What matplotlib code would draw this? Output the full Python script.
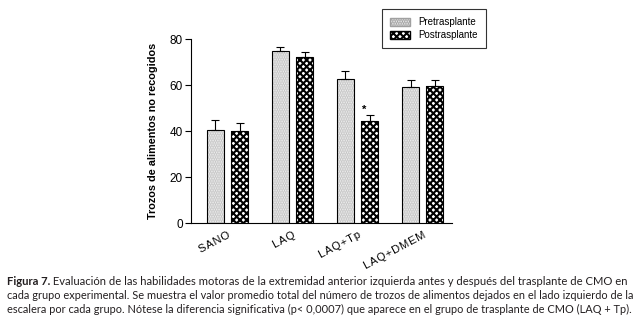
import numpy as np
import matplotlib
matplotlib.use('Agg')
import matplotlib.pyplot as plt
from matplotlib.patches import Patch

# data
groups = ['SANO', 'LAQ', 'LAQ+Tp', 'LAQ+DMEM']
pre_vals = [40.5, 75.0, 62.5, 59.0]
pre_err = [4.5, 1.5, 3.5, 3.0]
post_vals = [40.0, 72.0, 44.5, 59.5]
post_err = [3.5, 2.5, 2.5, 2.5]
series_names = ['Pretrasplante', 'Postrasplante']
y_ticks = [0, 20, 40, 60, 80]

caption_bold = 'Figura 7.'
caption_lines = [
    ' Evaluación de las habilidades motoras de la extremidad anterior izquierda antes y después del trasplante de CMO en',
    'cada grupo experimental. Se muestra el valor promedio total del número de trozos de alimentos dejados en el lado izquierdo de la',
    'escalera por cada grupo. Nótese la diferencia significativa (p< 0,0007) que aparece en el grupo de trasplante de CMO (LAQ + Tp).',
]

chart_font = ['Liberation Sans Narrow', 'Liberation Sans', 'DejaVu Sans']
cap_font = ['Lato', 'DejaVu Sans']

plt.rcParams['font.family'] = chart_font
plt.rcParams['hatch.linewidth'] = 1.5

fig = plt.figure(figsize=(6.39, 3.34), dpi=100)
ax = fig.add_axes([0.2989, 0.3323, 0.4085, 0.5509])

x = np.arange(len(groups))
w = 0.26
off = 0.185

pre_face, pre_dot = '#f2f2f2', '#c4c4c4'

# pre: light stipple
ax.bar(x - off, pre_vals, w, color=pre_face, edgecolor=pre_dot, hatch='.......', linewidth=0)
ax.bar(x - off, pre_vals, w, fill=False, edgecolor='black', linewidth=0.8)
# post: checker-like
ax.bar(x + off, post_vals, w, color='white', edgecolor='black', hatch='xxxxx', linewidth=0)
ax.bar(x + off, post_vals, w, fill=False, edgecolor='black', linewidth=0.8)

# upper error bars only
ax.errorbar(x - off, pre_vals, yerr=[np.zeros(4), pre_err], fmt='none', ecolor='black',
            elinewidth=0.8, capsize=3, capthick=0.8)
ax.errorbar(x + off, post_vals, yerr=[np.zeros(4), post_err], fmt='none', ecolor='black',
            elinewidth=0.8, capsize=3, capthick=0.8)

# significance mark
ax.text(x[2] + off - 0.08, post_vals[2] + post_err[2], '*', ha='center', va='bottom',
        fontsize=8, fontweight='bold')

ax.set_xlim(-0.5615, 3.4538)
ax.set_ylim(0, 80)
ax.set_yticks(y_ticks)
ax.tick_params(axis='y', direction='out', length=4, width=0.8, labelsize=8.5, pad=2)
ax.set_xticks(x)
# letter-spaced tick labels like the original
spaced = ['\u200a'.join(g) for g in groups]
ax.set_xticklabels(spaced, rotation=28, ha='right', rotation_mode='anchor', fontsize=8)
ax.tick_params(axis='x', length=0, pad=5)
for s in ['top', 'right']:
    ax.spines[s].set_visible(False)
for s in ['left', 'bottom']:
    ax.spines[s].set_linewidth(0.8)

ax.set_ylabel('Trozos de alimentos no recogidos', fontsize=7.8, fontweight='bold', labelpad=8)

handles = [Patch(facecolor=pre_face, edgecolor='#a0a0a0', hatch='.......', label=series_names[0]),
           Patch(facecolor='white', edgecolor='black', hatch='xxxxx', label=series_names[1])]
leg = fig.legend(handles=handles, loc='upper left', bbox_to_anchor=(382 / 639, 1 - 9 / 334),
                 fontsize=7, frameon=True, fancybox=False, edgecolor='black',
                 handlelength=2.0, handleheight=0.9, borderpad=0.85, labelspacing=0.3,
                 handletextpad=0.9, borderaxespad=0)
leg.get_frame().set_linewidth(0.8)

# caption, each line sized to the same justified width
cap_color = '#231f20'
cap_size = 8.1
left_px, right_px = 7, 630
target = right_px - left_px
r = fig.canvas.get_renderer()

t0 = fig.text(left_px / 639, 1 - 285 / 334, caption_bold, fontsize=cap_size, fontweight='bold',
              family=cap_font, color=cap_color, va='baseline')
t1 = ax.annotate(caption_lines[0], xy=(1, 0), xycoords=t0, va='bottom', fontsize=cap_size,
                 family=cap_font, color=cap_color, annotation_clip=False)
fig.canvas.draw()
wd = t0.get_window_extent(r).width + t1.get_window_extent(r).width
s = cap_size * target / wd
t0.set_fontsize(s)
t1.set_fontsize(s)

for line, ypx in zip(caption_lines[1:], [299, 313]):
    t = fig.text(left_px / 639, 1 - ypx / 334, line, fontsize=cap_size, family=cap_font,
                 color=cap_color, va='baseline')
    fig.canvas.draw()
    t.set_fontsize(cap_size * target / t.get_window_extent(r).width)

fig.savefig('out.png', dpi=100)
